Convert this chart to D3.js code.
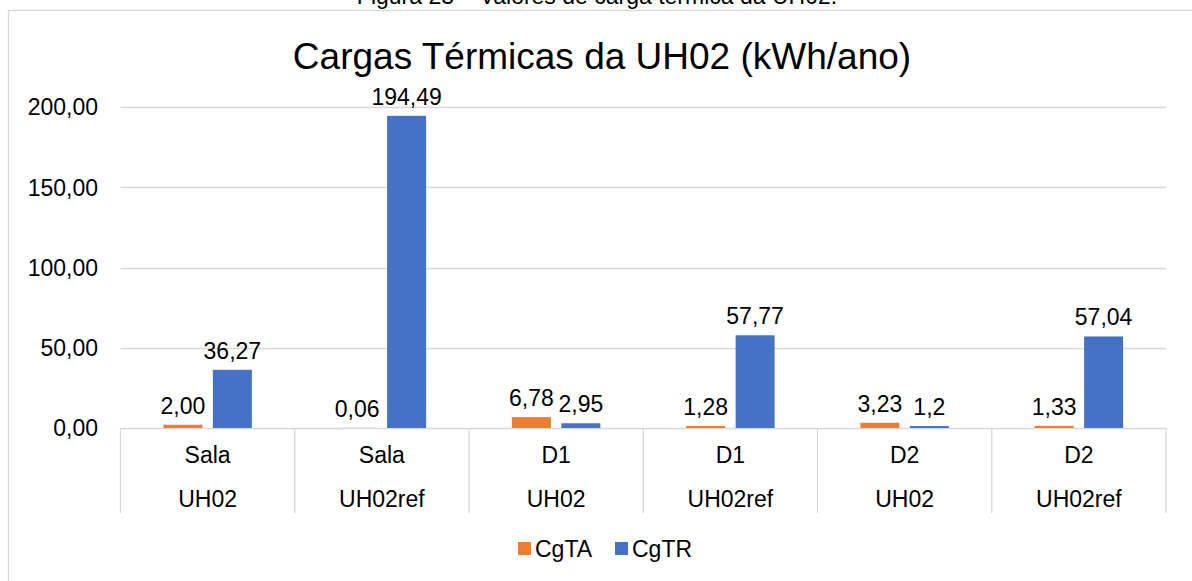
<!DOCTYPE html>
<html>
<head>
<meta charset="utf-8">
<script src="https://cdn.jsdelivr.net/npm/d3@7"></script>
<style>
  html, body { margin: 0; padding: 0; background: #fff; }
  svg { display: block; }
  text { font-family: "Liberation Sans", Arial, sans-serif; fill: #000; }
</style>
</head>
<body>
<svg id="chart" width="1192" height="581"></svg>
<script>
// ---- data ----
const rooms = ["Sala", "Sala", "D1", "D1", "D2", "D2"];
const cases = ["UH02", "UH02ref", "UH02", "UH02ref", "UH02", "UH02ref"];
const seriesNames = ["CgTA", "CgTR"];
const cgTA = [2.00, 0.06, 6.78, 1.28, 3.23, 1.33];
const cgTR = [36.27, 194.49, 2.95, 57.77, 1.2, 57.04];
const cgTALabels = ["2,00", "0,06", "6,78", "1,28", "3,23", "1,33"];
const cgTRLabels = ["36,27", "194,49", "2,95", "57,77", "1,2", "57,04"];
const yTicks = [0, 50, 100, 150, 200];
const yTickLabels = ["0,00", "50,00", "100,00", "150,00", "200,00"];
const colors = ["#ED7D31", "#4472C4"];
const title = "Cargas Térmicas da UH02 (kWh/ano)";
const caption = "Figura 23 – Valores de carga térmica da UH02.";

// ---- layout ----
const svg = d3.select("#chart");
const plot = { left: 120.5, right: 1166, top: 107, bottom: 428 };
const gridColor = "#d9d9d9";

const idx = d3.range(rooms.length);
const x0 = d3.scaleBand().domain(idx).range([plot.left, plot.right]).paddingInner(0).paddingOuter(0);
const x1 = d3.scaleBand().domain(seriesNames).range([0, x0.bandwidth()]).paddingInner(0.212).paddingOuter(0.867);
const y = d3.scaleLinear().domain([0, 200]).range([plot.bottom, plot.top]);

const valuesBy = { CgTA: cgTA, CgTR: cgTR };
const labelsBy = { CgTA: cgTALabels, CgTR: cgTRLabels };

// caption (cut off at top)
svg.append("text").attr("x", 597).attr("y", 4).attr("text-anchor", "middle")
  .style("font-size", "23px").text(caption);

// chart frame
svg.append("rect").attr("x", 8.5).attr("y", 10.5).attr("width", 1300).attr("height", 700)
  .attr("fill", "#fff").attr("stroke", gridColor).attr("stroke-width", 1.3);

// title
svg.append("text").attr("x", 602).attr("y", 69).attr("text-anchor", "middle")
  .style("font-size", "37px").text(title);

// gridlines
svg.append("g").selectAll("line").data(yTicks).join("line")
  .attr("x1", plot.left).attr("x2", plot.right)
  .attr("y1", d => Math.round(y(d)) + 0.5).attr("y2", d => Math.round(y(d)) + 0.5)
  .attr("stroke", gridColor).attr("stroke-width", 1.3);

// y tick labels
svg.append("g").selectAll("text").data(yTicks).join("text")
  .attr("x", 98).attr("y", d => y(d)).attr("dy", "0.36em")
  .attr("text-anchor", "end").style("font-size", "23px")
  .text((d, i) => yTickLabels[i]);

// category dividers
const bounds = idx.map(i => x0(i)).concat([plot.right]);
svg.append("g").selectAll("line").data(bounds).join("line")
  .attr("x1", d => d).attr("x2", d => d)
  .attr("y1", plot.bottom).attr("y2", 513)
  .attr("stroke", gridColor).attr("stroke-width", 1.3);

// category labels
svg.append("g").selectAll("text").data(idx).join("text")
  .attr("x", i => x0(i) + x0.bandwidth() / 2).attr("y", 463)
  .attr("text-anchor", "middle").style("font-size", "23px")
  .text(i => rooms[i]);
svg.append("g").selectAll("text").data(idx).join("text")
  .attr("x", i => x0(i) + x0.bandwidth() / 2).attr("y", 507)
  .attr("text-anchor", "middle").style("font-size", "23px")
  .text(i => cases[i]);

// bars
const groups = svg.append("g").selectAll("g").data(idx).join("g")
  .attr("transform", i => `translate(${x0(i)},0)`);
groups.selectAll("rect")
  .data(i => seriesNames.map((s, k) => ({ s, k, v: valuesBy[s][i], label: labelsBy[s][i] })))
  .join("rect")
  .attr("x", d => x1(d.s)).attr("width", x1.bandwidth())
  .attr("y", d => y(d.v)).attr("height", d => y(0) - y(d.v))
  .attr("fill", d => colors[d.k]);

// data labels
groups.selectAll("text")
  .data(i => seriesNames.map((s, k) => ({ s, k, v: valuesBy[s][i], label: labelsBy[s][i] })))
  .join("text")
  .attr("x", d => x1(d.s) + x1.bandwidth() / 2)
  .attr("y", d => y(d.v) - 11)
  .attr("text-anchor", "middle").style("font-size", "23px")
  .text(d => d.label);

// legend
const legend = svg.append("g");
const legendX = [518, 615];
seriesNames.forEach((s, k) => {
  legend.append("rect").attr("x", legendX[k]).attr("y", 542).attr("width", 13).attr("height", 13)
    .attr("fill", colors[k]);
  legend.append("text").attr("x", legendX[k] + 17).attr("y", 557)
    .style("font-size", "23px").text(s);
});
</script>
</body>
</html>
